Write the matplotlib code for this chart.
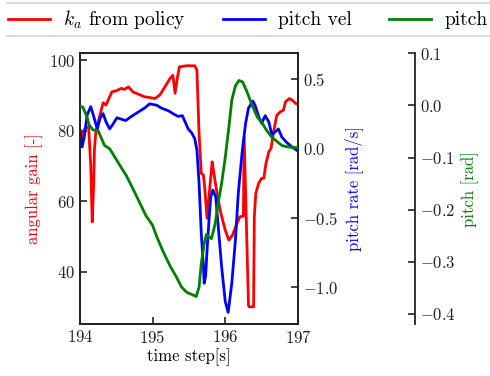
import matplotlib
matplotlib.use("Agg")
import matplotlib.pyplot as plt
from matplotlib.lines import Line2D

plt.rcParams['font.family'] = 'serif'
plt.rcParams['font.serif'] = ['cmr10']
plt.rcParams['mathtext.fontset'] = 'cm'
plt.rcParams['axes.formatter.use_mathtext'] = True
plt.rcParams['font.size'] = 12

# ---- data ----
t_gain = [194.00, 194.04, 194.07, 194.12, 194.15, 194.17, 194.19, 194.20, 194.22, 194.27,
          194.32, 194.36, 194.41, 194.44, 194.50, 194.57, 194.61, 194.67, 194.73, 194.80,
          194.89, 194.96, 195.03, 195.10, 195.17, 195.24, 195.28, 195.31, 195.34, 195.37,
          195.47, 195.58, 195.61, 195.64, 195.67, 195.70, 195.72, 195.75, 195.78, 195.82,
          195.84, 195.88, 195.93, 195.97, 196.00, 196.05, 196.10, 196.16, 196.20, 196.25,
          196.26, 196.32, 196.33, 196.39, 196.40, 196.42, 196.46, 196.50, 196.53, 196.56,
          196.60, 196.63, 196.67, 196.71, 196.76, 196.80, 196.83, 196.88, 196.92, 196.97,
          197.00]
gain = [80.4, 78.2, 80.7, 81.1, 70.0, 54.2, 65.0, 74.5, 79.7, 83.9,
        87.9, 87.3, 89.6, 91.0, 91.3, 92.0, 91.7, 92.4, 91.0, 90.4,
        89.6, 89.4, 89.1, 90.1, 92.4, 94.8, 95.7, 90.6, 94.8, 98.1,
        98.4, 98.4, 97.2, 79.2, 67.9, 67.4, 63.2, 55.2, 62.2, 71.2,
        68.4, 63.2, 57.5, 54.2, 51.8, 49.0, 50.4, 53.7, 55.6, 55.8,
        78.3, 30.5, 30.1, 30.1, 55.6, 62.2, 65.1, 66.5, 66.5, 70.7,
        74.0, 75.0, 80.2, 84.4, 85.4, 85.8, 88.2, 89.1, 88.7, 87.7,
        87.5]

t_rate = [194.00, 194.03, 194.06, 194.10, 194.15, 194.19, 194.24, 194.28, 194.32, 194.36,
          194.41, 194.45, 194.51, 194.57, 194.63, 194.71, 194.80, 194.89, 194.96, 195.06,
          195.12, 195.22, 195.28, 195.35, 195.41, 195.44, 195.49, 195.54, 195.58, 195.61,
          195.64, 195.67, 195.70, 195.71, 195.73, 195.75, 195.78, 195.80, 195.83, 195.87,
          195.90, 195.95, 196.00, 196.04, 196.09, 196.14, 196.18, 196.23, 196.28, 196.32,
          196.38, 196.41, 196.46, 196.50, 196.55, 196.60, 196.64, 196.69, 196.73, 196.78,
          196.85, 196.92, 197.00]
rate = [0.13, 0.01, 0.08, 0.24, 0.30, 0.23, 0.14, 0.22, 0.25, 0.19,
        0.14, 0.17, 0.22, 0.21, 0.20, 0.23, 0.26, 0.29, 0.32, 0.31,
        0.29, 0.27, 0.25, 0.23, 0.235, 0.20, 0.14, 0.11, 0.07, -0.01,
        -0.25, -0.61, -0.85, -0.97, -0.92, -0.73, -0.49, -0.35, -0.30, -0.35,
        -0.54, -0.85, -1.10, -1.18, -0.97, -0.66, -0.32, -0.04, 0.18, 0.29,
        0.34, 0.31, 0.23, 0.18, 0.235, 0.19, 0.10, 0.12, 0.14, 0.08,
        0.04, 0.01, -0.02]

t_pitch = [194.00, 194.04, 194.09, 194.13, 194.18, 194.25, 194.29, 194.34, 194.41, 194.48,
           194.55, 194.64, 194.73, 194.82, 194.91, 195.00, 195.06, 195.15, 195.24, 195.33,
           195.40, 195.47, 195.54, 195.60, 195.64, 195.67, 195.71, 195.74, 195.78, 195.81,
           195.86, 195.90, 195.95, 196.00, 196.05, 196.09, 196.14, 196.19, 196.24, 196.30,
           196.37, 196.44, 196.50, 196.57, 196.64, 196.71, 196.78, 196.87, 197.00]
pitch = [-0.002, -0.003, -0.019, -0.038, -0.047, -0.048, -0.061, -0.077, -0.083, -0.099,
         -0.115, -0.135, -0.160, -0.186, -0.212, -0.230, -0.253, -0.282, -0.308, -0.330,
         -0.349, -0.359, -0.363, -0.367, -0.349, -0.304, -0.266, -0.248, -0.253, -0.256,
         -0.228, -0.189, -0.150, -0.100, -0.042, 0.010, 0.038, 0.048, 0.045, 0.026,
         0.0, -0.022, -0.032, -0.048, -0.061, -0.069, -0.077, -0.080, -0.081]

gain_ticks = [40, 60, 80, 100]
rate_ticks = [-1.0, -0.5, 0.0, 0.5]
pitch_ticks = [-0.4, -0.3, -0.2, -0.1, 0.0, 0.1]
x_ticks = [194, 195, 196, 197]

# ---- figure ----
fig = plt.figure(figsize=(4.9, 3.76), dpi=100)
ax1 = fig.add_axes([0.163, 0.138, 0.445, 0.720])
ax2 = ax1.twinx()
ax3 = ax1.twinx()
ax3.spines['right'].set_position(('axes', 1.537))
for s in ['top', 'left', 'bottom']:
    ax3.spines[s].set_visible(False)

lw = 2.0
l1, = ax1.plot(t_gain, gain, color='red', lw=lw, label='$k_a$ from policy')
l2, = ax2.plot(t_rate, rate, color='blue', lw=lw, label='pitch vel')
l3, = ax3.plot(t_pitch, pitch, color='green', lw=lw, label='pitch')

ax1.set_xlim(194, 197)
ax1.set_ylim(25.2, 101.9)
ax2.set_ylim(-1.264, 0.683)
ax3.set_ylim(-0.42, 0.1)

ax1.set_xticks(x_ticks)
ax1.set_yticks(gain_ticks)
ax2.set_yticks(rate_ticks)
ax3.set_yticks(pitch_ticks)

for ax in (ax1, ax2, ax3):
    ax.tick_params(direction='in', length=5, width=1.2, labelsize=12, colors='#222222')
    for s in ax.spines.values():
        s.set_linewidth(1.3)
        s.set_color('#222222')

ax1.set_xlabel('time step[s]', fontsize=12, labelpad=2)
ax1.set_ylabel('angular gain [-]', color='red', fontsize=12)
ax2.set_ylabel('pitch rate [rad/s]', color='blue', fontsize=12)
ax3.set_ylabel('pitch [rad]', color='green', fontsize=12)

fig.legend(handles=[l1, l2, l3], loc='center left', bbox_to_anchor=(0.016, 0.947),
           ncol=3, frameon=False, fontsize=14, handlelength=2.16, handletextpad=0.67,
           columnspacing=1.92, borderaxespad=0, borderpad=0)

fig.add_artist(Line2D([0.014, 1.0], [1 - 3 / 376, 1 - 3 / 376], transform=fig.transFigure,
                      color='#d8d8d8', lw=1.3))
fig.add_artist(Line2D([0.014, 1.0], [1 - 36 / 376, 1 - 36 / 376], transform=fig.transFigure,
                      color='#d8d8d8', lw=1.3))

fig.savefig('out.png', dpi=100)
